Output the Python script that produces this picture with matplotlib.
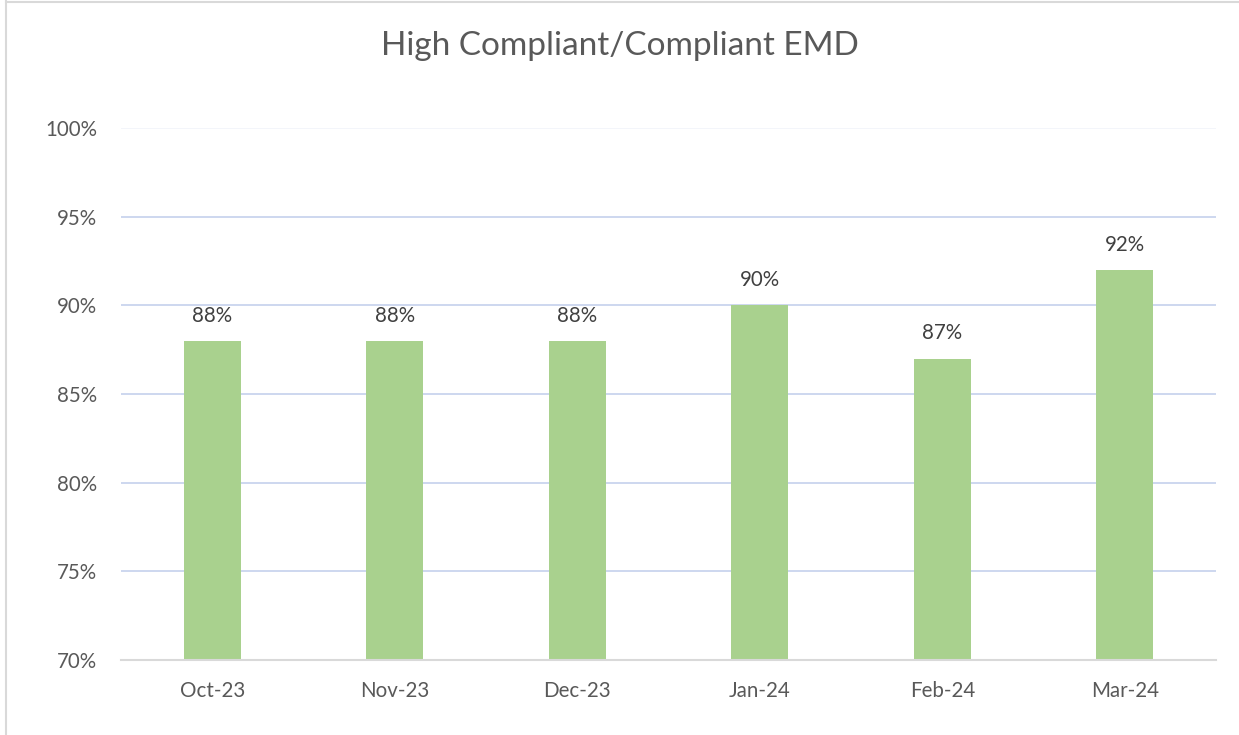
import matplotlib
matplotlib.use("Agg")
import matplotlib.pyplot as plt
from matplotlib.lines import Line2D

categories = ["Oct-23", "Nov-23", "Dec-23", "Jan-24", "Feb-24", "Mar-24"]
values = [88, 88, 88, 90, 87, 92]
yticks = [70, 75, 80, 85, 90, 95, 100]
title = "High Compliant/Compliant EMD"

plt.rcParams['font.family'] = ['Lato', 'DejaVu Sans']
txt = '#595959'

fig = plt.figure(figsize=(12.39, 7.35), dpi=100)
ax = fig.add_axes([121/1239, 75/735, (1216-121)/1239, (660-128)/735])

x = list(range(len(categories)))
ax.bar(x, [v - 70 for v in values], bottom=70, width=0.31, color='#A9D18E', zorder=3)
for xi, v in zip(x, values):
    ax.text(xi, v + 0.85, f"{v}%", ha='center', va='bottom', fontsize=14.8, color='#404040')

ax.set_xlim(-0.5, len(categories) - 0.5)
ax.set_ylim(70, 100)
ax.set_yticks(yticks)
ax.set_yticklabels([f"{t}%" for t in yticks])
ax.set_xticks(x)
ax.set_xticklabels(categories)
ax.tick_params(axis='both', length=0, labelsize=14.8, labelcolor=txt)
ax.tick_params(axis='y', pad=17)
ax.tick_params(axis='x', pad=15)
for t in yticks[1:-1]:
    ax.axhline(t, color='#C9D4EE', lw=1.3, zorder=1)
ax.axhline(100, color='#F2F4FA', lw=1.3, zorder=1)
for s in ['top', 'right', 'left']:
    ax.spines[s].set_visible(False)
ax.spines['bottom'].set_color('#D9D9D9')
ax.spines['bottom'].set_linewidth(1.5)
ax.spines['bottom'].set_zorder(4)

fig.text(0.5, 689/735, title, ha='center', va='center', fontsize=24, color=txt)

fig.add_artist(Line2D([6/1239, 6/1239], [0, 1 - 1/735], transform=fig.transFigure, color='#D9D9D9', lw=1.5))
fig.add_artist(Line2D([6/1239, 1], [1 - 1.5/735, 1 - 1.5/735], transform=fig.transFigure, color='#D9D9D9', lw=1.5))

fig.savefig("out.png", dpi=100, facecolor='white')
